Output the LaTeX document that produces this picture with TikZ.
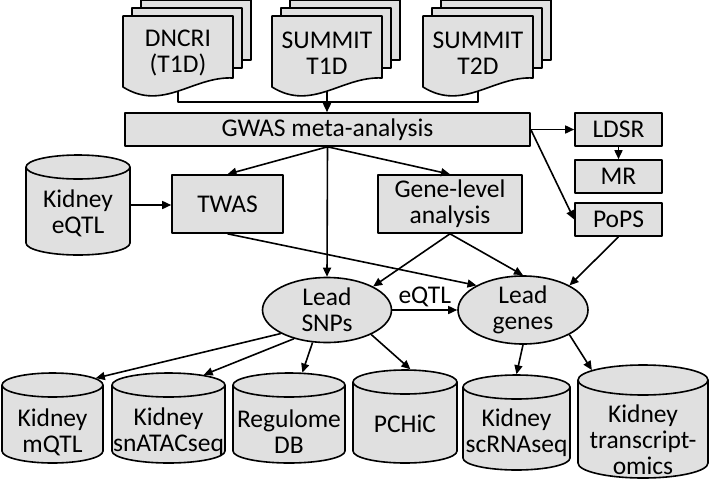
\documentclass[tikz,border=0pt]{standalone}
\usepackage{fontspec}
\setmainfont{Carlito}
\usetikzlibrary{shapes.geometric,arrows.meta}
\tikzset{
  box/.style={draw, fill=black!12, align=center, inner sep=1pt},
  leadnode/.style={ellipse, draw, fill=black!12, align=center, inner sep=0pt},
  pics/docstack/.style={code={
    \foreach \k in {2,1}
      \filldraw[fill=black!12] (9*\k,-8*\k) rectangle ++(110,60);
    \filldraw[fill=black!12] (0,0) -- (110,0) -- (110,62) .. controls (70,60) and (40,96) .. (0,71) -- cycle;
    \node[align=center] (-lbl) at (55,37) {#1};
    \coordinate (-out) at (55,75);
  }},
  % width/height/cap radius/text shift/text
  pics/database/.style args={#1/#2/#3/#4/#5}{code={
    \filldraw[fill=black!12] ({-#1/2},{-#2/2+#3}) -- ({-#1/2},{#2/2-#3})
      arc[start angle=180, end angle=0, x radius={#1/2}, y radius=#3]
      -- ({#1/2},{-#2/2+#3})
      arc[start angle=0, end angle=-180, x radius={#1/2}, y radius=#3] -- cycle;
    \draw ({-#1/2},{-#2/2+#3}) arc[start angle=180, end angle=0, x radius={#1/2}, y radius=#3];
    \node[ellipse, inner sep=0pt, minimum width=#1, minimum height=2*#3] (-top) at (0,{-#2/2+#3}) {};
    \node[align=center, inner sep=0pt] (-lbl) at (0,#4) {#5};
    \coordinate (-mid) at (0,0);
  }},
}
\begin{document}
\begin{tikzpicture}[x=1pt, y=-1pt, line width=1.6pt, >={Triangle[length=9pt,width=8pt]}, font=\fontsize{25.5}{26}\selectfont, line join=round]
  \useasboundingbox (0,0) rectangle (710,480);
  \clip (0,0) rectangle (710,480);
  % data sources
  \pic (dncri) at (123,16) {docstack={DNCRI\\(T1D)}};
  \pic (t1d) at (272,16) {docstack={SUMMIT\\T1D}};
  \pic (t2d) at (423,16) {docstack={SUMMIT\\T2D}};
  % analyses
  \node[box, minimum width=405pt, minimum height=33pt] (gwas) at (327.5,129.5) {GWAS meta-analysis};
  \node[box, minimum width=87pt, minimum height=33pt] (ldsr) at (618.5,129.5) {LDSR};
  \node[box, minimum width=87pt, minimum height=33pt] (mr) at (618.5,176.5) {MR};
  \node[box, minimum width=87pt, minimum height=33pt] (pops) at (618.5,219.5) {PoPS};
  \node[box, minimum width=111pt, minimum height=58pt] (twas) at (227.5,204) {TWAS};
  \node[box, minimum width=144pt, minimum height=58pt] (genelvl) at (450,204) {Gene-level\\analysis};
  \pic (eqtl) at (78,205) {database={104/100/12/8/Kidney\\eQTL}};
  \node[leadnode, minimum width=129pt, minimum height=65pt] (snps) at (327,310) {Lead\\SNPs};
  \node[leadnode, minimum width=130pt, minimum height=65pt] (genes) at (523,310) {Lead\\genes};
  % annotation data
  \pic (mqtl) at (52.5,418) {database={101/90/12/14/Kidney\\mQTL}};
  \pic (snatac) at (168.5,418) {database={113/90/12/14/Kidney\\snATACseq}};
  \pic (regdb) at (289,418) {database={112/90/12/14/Regulome\\DB}};
  \pic (pchic) at (405,416.5) {database={104/93/12/7/PCHiC}};
  \pic (scrna) at (516.5,422.5) {database={107/95/12/10/Kidney\\scRNAseq}};
  \pic (trans) at (643,421.5) {database={130/113/15/18/Kidney\\transcript-\\omics}};
  % connectors
  \coordinate (merge) at (327,102);
  \draw (dncri-out) |- (merge) -| (t2d-out);
  \draw[->] (t1d-out) -- (t1d-out |- gwas.north);
  \draw[->] (gwas) -- (ldsr);
  \draw[->] (ldsr) -- (mr);
  \draw[->] (gwas.east) -- (pops.west);
  \draw[->] (gwas.south) -- (twas.north);
  \draw[->] (gwas.south) -- (genelvl.north);
  \draw[->] (gwas.south) -- (snps.north);
  \draw[->] (eqtl-mid -| eqtl-top.east) -- (eqtl-mid -| twas.west);
  \draw[->] (twas.south) -- (genes.north west);
  \draw[->] (genelvl.south) -- (snps.north east);
  \draw[->] (genelvl.south) -- (genes.north);
  \draw[->] (pops.south) -- (genes.north east);
  \draw[->] (snps) -- node[above, inner sep=2pt] (eqtlarr) {eQTL} (genes);
  \draw[->] (snps.207) -- (mqtl-top.9);
  \draw[->] (snps.221) -- (snatac-top.16);
  \draw[->] (snps.246) -- (regdb-top.43);
  \draw[->] (snps.331) -- (pchic-top.67);
  \draw[->] (genes.south) -- (scrna-top.north);
  \draw[->] (genes.332) -- (trans-top.169);
\end{tikzpicture}
\end{document}
